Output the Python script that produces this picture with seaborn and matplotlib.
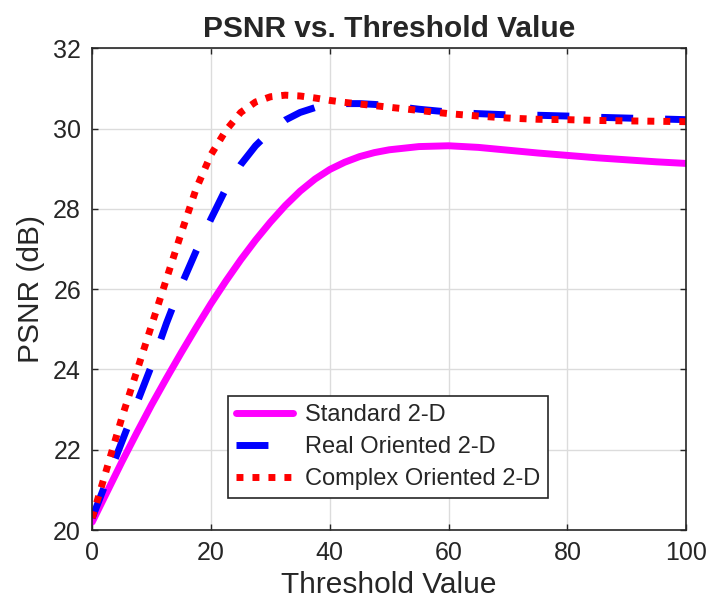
import numpy as np
import pandas as pd
import matplotlib
matplotlib.use("Agg")
import matplotlib.pyplot as plt
import seaborn as sns

# threshold values (x axis)
threshold = [0, 2.5, 5, 7.5, 10, 12.5, 15, 17.5, 20, 22.5, 25, 27.5, 30, 32.5,
             35, 37.5, 40, 42.5, 45, 47.5, 50, 55, 60, 65, 70, 75, 80, 85,
             90, 95, 100]

# PSNR (dB)
psnr_standard = [20.2, 20.95, 21.7, 22.42, 23.12, 23.78, 24.42, 25.04, 25.64,
                 26.2, 26.73, 27.22, 27.67, 28.08, 28.44, 28.74, 28.98,
                 29.16, 29.3, 29.4, 29.47, 29.55, 29.57, 29.53, 29.46,
                 29.39, 29.33, 29.27, 29.22, 29.17, 29.13]
psnr_real = [20.3, 21.25, 22.2, 23.15, 24.1, 25.15, 26.1, 26.95, 27.75,
             28.5, 29.1, 29.57, 29.93, 30.21, 30.4, 30.52, 30.59, 30.62,
             30.62, 30.6, 30.57, 30.48, 30.41, 30.37, 30.34, 30.33, 30.31,
             30.28, 30.26, 30.24, 30.22]
psnr_complex = [20.3, 21.55, 22.8, 23.95, 25.1, 26.25, 27.4, 28.5, 29.35,
                29.95, 30.4, 30.66, 30.79, 30.83, 30.81, 30.76, 30.7, 30.65,
                30.61, 30.57, 30.53, 30.45, 30.37, 30.31, 30.26, 30.23,
                30.22, 30.2, 30.19, 30.18, 30.17]

methods = ["Standard 2-D", "Real Oriented 2-D", "Complex Oriented 2-D"]
x_ticks = [0, 20, 40, 60, 80, 100]
y_ticks = [20, 22, 24, 26, 28, 30, 32]

df = pd.DataFrame({
    "threshold": threshold * 3,
    "psnr": psnr_standard + psnr_real + psnr_complex,
    "method": [m for m in methods for _ in threshold],
})

sns.set_style("ticks")
plt.rcParams["font.family"] = ["Liberation Sans", "DejaVu Sans"]

fig = plt.figure(figsize=(7.09, 6.10), dpi=100)
ax = fig.add_axes([0.130, 0.131, 0.838, 0.790])

palette = {methods[0]: "#ff00ff", methods[1]: "#0000ff", methods[2]: "#ff0000"}
dashes = {methods[0]: "", methods[1]: (4.6, 4.6), methods[2]: (1.0, 1.3)}

sns.lineplot(
    data=df, x="threshold", y="psnr",
    hue="method", style="method", hue_order=methods, style_order=methods,
    palette=palette, dashes=dashes, linewidth=5, ax=ax,
)

ax.set_xlim(0, 100)
ax.set_ylim(20, 32)
ax.set_xticks(x_ticks)
ax.set_yticks(y_ticks)
ax.grid(True, color="#dcdcdc", linewidth=1)
ax.set_axisbelow(True)

for side in ["top", "right", "bottom", "left"]:
    ax.spines[side].set_visible(True)
    ax.spines[side].set_color("#262626")
    ax.spines[side].set_linewidth(1.2)

ax.tick_params(direction="in", length=4, width=1, colors="#262626",
               labelsize=18, pad=8, top=True, right=True)

ax.set_title("PSNR vs. Threshold Value", fontsize=21.5, fontweight="bold", pad=8)
ax.set_xlabel("Threshold Value", fontsize=21.5, color="#262626", labelpad=4)
ax.set_ylabel("PSNR (dB)", fontsize=21.5, color="#262626", labelpad=6)

handles, labels = ax.get_legend_handles_labels()
leg = ax.legend(
    handles, labels, loc="lower center", bbox_to_anchor=(0.4985, 0.066),
    fontsize=17, frameon=True, fancybox=False, framealpha=1,
    edgecolor="#262626", handlelength=2.4, handletextpad=0.5,
    labelspacing=0.42, borderpad=0.35, borderaxespad=0,
)
leg.get_frame().set_linewidth(1.2)

fig.savefig("out.png", dpi=100)
